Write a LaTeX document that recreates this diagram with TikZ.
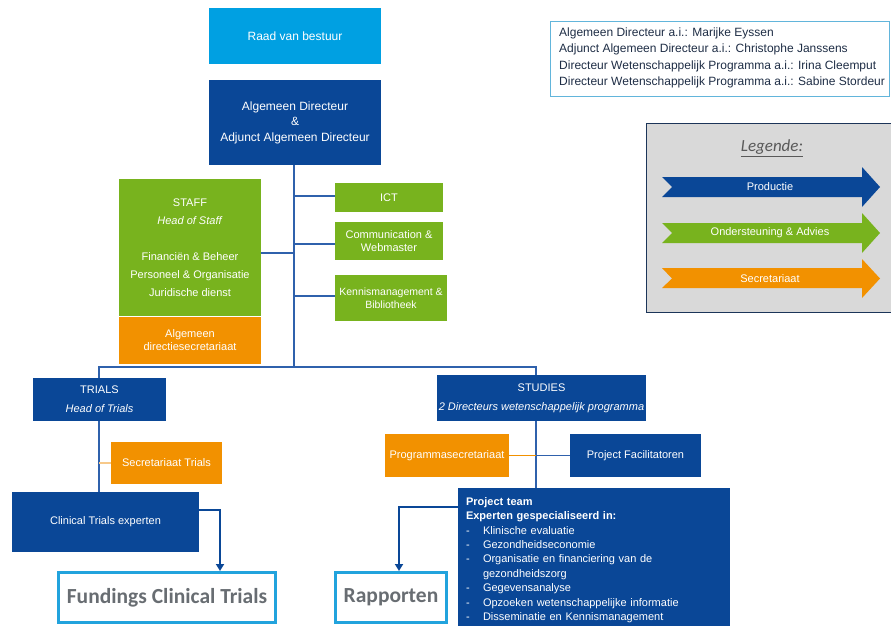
\documentclass[tikz,border=0pt]{standalone}
\usepackage{fontspec}
\setmainfont{Liberation Sans}
\newfontfamily\calib{Carlito}
\usetikzlibrary{arrows.meta}
\definecolor{lblue}{HTML}{00A0E2}
\definecolor{dblue}{HTML}{0A4797}
\definecolor{lgreen}{HTML}{78B31E}
\definecolor{orng}{HTML}{F29100}
\definecolor{connc}{HTML}{2F61AC}
\definecolor{framebl}{HTML}{22A3DD}
\definecolor{txtgray}{HTML}{686D72}
\definecolor{leggray}{HTML}{D9D9D9}
\definecolor{legframe}{HTML}{1C3559}
\definecolor{infoframe}{HTML}{62B5DB}
\definecolor{infotxt}{HTML}{1E2D45}
\definecolor{paleorng}{HTML}{F7C98A}
\definecolor{titlegray}{HTML}{595959}
\tikzset{
  orgbox/.style={inner sep=0pt, align=center, text=white, font=\fontsize{11}{13}\selectfont},
  connline/.style={draw=connc, line width=1.5pt},
  flowline/.style={draw=dblue, line width=2.5pt, -{Triangle[length=7pt,width=8pt]}},
  outbox/.style={draw=framebl, line width=3pt, fill=white, text=txtgray, inner sep=0pt,
    font=\calib\bfseries\fontsize{21.5}{24}\selectfont},
  legtext/.style={text=white, inner sep=0pt, font=\fontsize{11}{13}\selectfont}
}
\begin{document}
\begin{tikzpicture}[x=1pt,y=-1pt]
\useasboundingbox (0,0) rectangle (891,625);

% top
\node[orgbox, fill=lblue, minimum width=172pt, minimum height=56pt, font=\fontsize{12}{15}\selectfont] (raad) at (295,36) {Raad van bestuur};
\node[orgbox, fill=dblue, minimum width=172pt, minimum height=85pt, font=\fontsize{12}{15.5}\selectfont] (ad) at (295,122.5) {Algemeen Directeur\\\&\\Adjunct Algemeen Directeur};

% staff
\node[orgbox, fill=lgreen, minimum width=142pt, minimum height=137pt, font=\fontsize{11}{18}\selectfont] (staff) at (190,247.5)
  {STAFF\\\textit{Head of Staff}\\[18pt]Financiën \& Beheer\\Personeel \& Organisatie\\Juridische dienst};
\node[orgbox, fill=orng, minimum width=142pt, minimum height=47pt] (adsec) at (190,340) {Algemeen\\directiesecretariaat};

\node[orgbox, fill=lgreen, minimum width=108pt, minimum height=29pt] (ict) at (389,197.5) {ICT};
\node[orgbox, fill=lgreen, minimum width=108pt, minimum height=38pt] (comm) at (389,241) {Communication \&\\Webmaster};
\node[orgbox, fill=lgreen, minimum width=112pt, minimum height=46pt, font=\fontsize{10.5}{13}\selectfont] (kennis) at (391,298) {Kennismanagement \&\\Bibliotheek};

% trials
\node[orgbox, fill=dblue, minimum width=133pt, minimum height=43pt, font=\fontsize{11}{19}\selectfont] (trials) at (99.5,399.5) {TRIALS\\\textit{Head of Trials}};
\node[orgbox, fill=orng, minimum width=111pt, minimum height=42pt] (sectr) at (166.5,463) {Secretariaat Trials};
\node[orgbox, fill=dblue, minimum width=187pt, minimum height=60pt] (clin) at (105.5,522) {Clinical Trials experten};
\node[outbox, minimum width=217pt, minimum height=50pt] (fund) at (167,597.5) {Fundings Clinical Trials};

% studies
\node[orgbox, fill=dblue, minimum width=209pt, minimum height=46pt, font=\fontsize{11}{19}\selectfont] (studies) at (541.5,398) {STUDIES\\\textit{2 Directeurs wetenschappelijk programma}};
\node[orgbox, fill=orng, minimum width=124pt, minimum height=43pt] (progsec) at (447,455.5) {Programmasecretariaat};
\node[orgbox, fill=dblue, minimum width=131pt, minimum height=43pt] (projfac) at (635.5,455.5) {Project Facilitatoren};
\node[orgbox, fill=dblue, minimum width=272pt, minimum height=144pt, text width=256pt, inner xsep=8pt, align=left,
  font=\fontsize{11}{14.4}\selectfont] (pteam) at (594,560)
  {\textbf{Project team}\\
   \textbf{Experten gespecialiseerd in:}\\
   \makebox[17pt][l]{-}Klinische evaluatie\\
   \makebox[17pt][l]{-}Gezondheidseconomie\\
   \makebox[17pt][l]{-}Organisatie en financiering van de\\
   \makebox[17pt][l]{}gezondheidszorg\\
   \makebox[17pt][l]{-}Gegevensanalyse\\
   \makebox[17pt][l]{-}Opzoeken wetenschappelijke informatie\\
   \makebox[17pt][l]{-}Disseminatie en Kennismanagement};
\node[outbox, minimum width=111pt, minimum height=50pt] (rapp) at (391,597.5) {Rapporten};

% connectors
\coordinate (spine) at (294,367);
\coordinate (sx) at (536,367);
\draw[connline] (ad.south -| spine) -- (spine);
\draw[connline] ([yshift=-5.5pt]staff.east) -- ([yshift=-5.5pt]staff.east -| spine);
\draw[connline] ([yshift=1.5pt]ict.west) -- ([yshift=1.5pt]ict.west -| spine);
\draw[connline] ([yshift=-3pt]comm.west) -- ([yshift=-3pt]comm.west -| spine);
\draw[connline] ([yshift=2pt]kennis.west) -- ([yshift=2pt]kennis.west -| spine);
\draw[connline] (trials.north -| 99,0) |- (spine) -- (sx) -- (studies.north -| sx);
\draw[connline] (trials.south -| 99,0) -- (clin.north -| 99,0);
\draw[draw=paleorng, line width=1.5pt] (sectr.west) -- (sectr.west -| 99,0);
\draw[connline] (studies.south -| sx) -- (pteam.north -| sx);
\draw[draw=orng, line width=1.2pt] (progsec.east) -- (progsec.east -| sx);
\draw[connline] (projfac.west) -- (projfac.west -| sx);
\draw[flowline] ([yshift=-18pt]clin.north east) -| ([xshift=53pt]fund.north);
\draw[flowline] ([yshift=-19pt]pteam.north west) -| ([xshift=8pt]rapp.north);

% info box
\node[draw=infoframe, line width=1pt, minimum width=339pt, minimum height=75pt, inner sep=0pt] (info) at (719.5,58.5) {};
\node[anchor=west, align=left, inner sep=0pt, text=infotxt, font=\fontsize{12}{16.3}\selectfont] (infotext) at (559,58)
  {Algemeen Directeur a.i.: Marijke Eyssen\\
   Adjunct Algemeen Directeur a.i.: Christophe Janssens\\
   Directeur Wetenschappelijk Programma a.i.: Irina Cleemput\\
   Directeur Wetenschappelijk Programma a.i.: Sabine Stordeur};

% legend
\node[fill=leggray, draw=legframe, line width=1pt, minimum width=262pt, minimum height=189pt, anchor=north west, inner sep=0pt] (legend) at (646,123) {};
\node[inner sep=0pt, text=titlegray, font=\calib\itshape\fontsize{17}{20}\selectfont] (legtitle) at (772,148) {\underline{Legende:}};
\fill[dblue] (662,177) -- (862,177) -- (862,167) -- (880,187) -- (862,207) -- (862,197) -- (662,197) -- (672,187) -- cycle;
\fill[lgreen] (662,223) -- (862,223) -- (862,213) -- (880,233) -- (862,253) -- (862,243) -- (662,243) -- (672,233) -- cycle;
\fill[orng] (662,268) -- (862,268) -- (862,259) -- (880,278.5) -- (862,298) -- (862,288) -- (662,288) -- (672,278.5) -- cycle;
\node[legtext] (lprod) at (770,187) {Productie};
\node[legtext] (lond) at (770,233) {Ondersteuning \& Advies};
\node[legtext] (lsec) at (770,278.5) {Secretariaat};
\end{tikzpicture}
\end{document}
